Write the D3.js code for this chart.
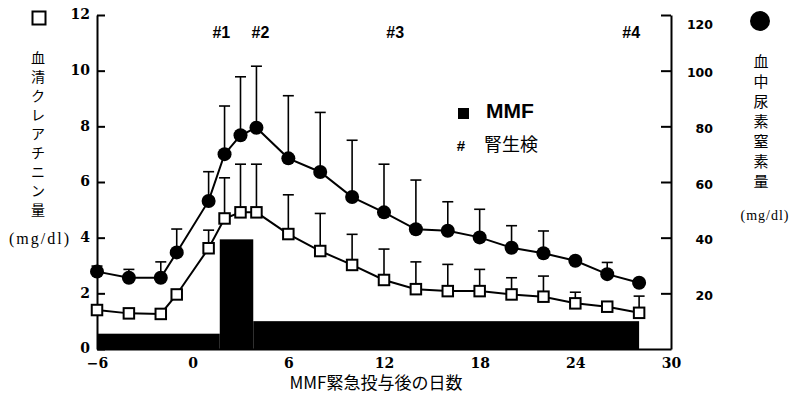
<!DOCTYPE html>
<html>
  <head>
    <meta charset="utf-8" />
    <title>MMF</title>
    <script src="https://cdn.jsdelivr.net/npm/d3@7"></script>
    <style>
      body { margin: 0; background: #fff; }
      svg { display: block; }
    </style>
  </head>
  <body>
    <svg width="789" height="403" id="mainsvg"></svg>
    <script>
      // days after MMF start
      const days = [-6, -4, -2, -1, 1, 2, 3, 4, 6, 8, 10, 12, 14, 16, 18, 20, 22, 24, 26, 28];
      // serum creatinine (mg/dl), open squares, left axis
      const creatinine = [1.40, 1.28, 1.26, 1.96, 3.62, 4.69, 4.91, 4.91, 4.13, 3.52, 3.02, 2.48, 2.15, 2.08, 2.08, 1.96, 1.88, 1.64, 1.52, 1.30];
      const creatinineSD = [0.1, 0.1, 0.1, 0.1, 0.65, 1.46, 1.73, 1.73, 1.41, 1.35, 1.10, 1.11, 0.98, 0.96, 0.78, 0.60, 0.74, 0.40, 0.1, 0.60];
      // BUN (mg/dl), filled circles, right axis
      const bun = [27.8, 25.6, 25.6, 34.7, 53.2, 70.0, 76.8, 79.5, 68.5, 63.6, 54.6, 49.1, 43.0, 42.5, 40.1, 36.4, 34.4, 31.7, 26.9, 23.8];
      const bunSD = [2.0, 3.0, 5.7, 8.4, 10.5, 17.3, 21.0, 22.1, 22.5, 21.4, 20.4, 17.3, 17.7, 10.4, 10.1, 7.9, 8.0, 1.0, 4.2, 1.0];
      // MMF dose steps (drawn on left axis units)
      const mmfStart = [-6, 1.7, 3.8];
      const mmfEnd = [1.7, 3.8, 28];
      const mmfLevel = [0.55, 3.94, 1.0];
      // renal biopsies
      const biopsyLabels = ["#1", "#2", "#3", "#4"];
      const biopsyDays = [1.8, 4.25, 12.7, 27.5];
      // ticks
      const xTicks = [-6, 0, 6, 12, 18, 24, 30];
      const yLeftTicks = [0, 2, 4, 6, 8, 10, 12];
      const yRightTicks = [20, 40, 60, 80, 100, 120];

      const svg = d3.select("#mainsvg");
      const margin = { top: 15, left: 97, right: 118, bottom: 54 };
      const width = +svg.attr("width");
      const height = +svg.attr("height");
      const innerWidth = width - margin.left - margin.right;
      const innerHeight = height - margin.top - margin.bottom;

      const g = svg.append("g").attr("transform", `translate(${margin.left},${margin.top})`);

      const x = d3.scaleLinear().domain([-6, 30]).range([0, innerWidth]);
      const y = d3.scaleLinear().domain([0, 12]).range([innerHeight, 0]);
      const yR = d3.scaleLinear().domain([0, 120]).range([innerHeight, 0]);

      const serifBold = "'DejaVu Serif', serif";
      const cjk = "'Noto Sans CJK JP', sans-serif";
      const unitFont = "'Liberation Serif', serif";

      // MMF dose
      g.selectAll("rect.mmf")
        .data(mmfStart.map((s, i) => ({ s, e: mmfEnd[i], v: mmfLevel[i] })))
        .join("rect")
        .attr("class", "mmf")
        .attr("x", (d) => x(d.s))
        .attr("width", (d) => x(d.e) - x(d.s))
        .attr("y", (d) => y(d.v))
        .attr("height", (d) => innerHeight - y(d.v))
        .attr("fill", "#000");

      // axes
      const yAxisL = g.append("g")
        .call(d3.axisLeft(y).tickValues(yLeftTicks).tickSize(-8).tickSizeOuter(0).tickPadding(7));
      yAxisL.selectAll("text").attr("font-family", serifBold).attr("font-weight", "bold").attr("font-size", 14).attr("dy", "0.28em");

      const yAxisR = g.append("g")
        .attr("transform", `translate(${innerWidth},0)`)
        .call(d3.axisRight(yR).tickValues(yRightTicks).tickSize(-10).tickSizeOuter(0));
      yAxisR.selectAll("text")
        .attr("x", 42)
        .attr("text-anchor", "end")
        .attr("font-family", "'DejaVu Sans', sans-serif")
        .attr("font-weight", "bold")
        .attr("font-size", 12.5)
        .attr("dy", (d) => (d === 120 ? "1.1em" : "0.5em"));

      const xAxis = g.append("g")
        .attr("transform", `translate(0,${innerHeight})`)
        .call(d3.axisBottom(x).tickValues(xTicks).tickSize(0).tickSizeOuter(0).tickPadding(9));
      xAxis.selectAll("text").attr("font-family", serifBold).attr("font-weight", "bold").attr("font-size", 14);

      svg.selectAll(".domain").attr("stroke", "#000").attr("stroke-width", 2);
      svg.selectAll(".tick line").attr("stroke", "#000").attr("stroke-width", 2);

      // series
      const creat = days.map((d, i) => ({ d, v: creatinine[i], sd: creatinineSD[i] }));
      const urea = days.map((d, i) => ({ d, v: bun[i], sd: bunSD[i] }));

      function drawErr(data, scale) {
        const eg = g.append("g").attr("stroke", "#000").attr("stroke-width", 1.6);
        eg.selectAll("line.v").data(data).join("line")
          .attr("x1", (d) => x(d.d)).attr("x2", (d) => x(d.d))
          .attr("y1", (d) => scale(d.v)).attr("y2", (d) => scale(d.v + d.sd));
        eg.selectAll("line.c").data(data).join("line")
          .attr("x1", (d) => x(d.d) - 5.5).attr("x2", (d) => x(d.d) + 5.5)
          .attr("y1", (d) => scale(d.v + d.sd)).attr("y2", (d) => scale(d.v + d.sd));
      }

      drawErr(creat, y);
      drawErr(urea, yR);

      g.append("path")
        .datum(creat)
        .attr("fill", "none").attr("stroke", "#000").attr("stroke-width", 2)
        .attr("d", d3.line().x((d) => x(d.d)).y((d) => y(d.v)));
      g.append("path")
        .datum(urea)
        .attr("fill", "none").attr("stroke", "#000").attr("stroke-width", 2)
        .attr("d", d3.line().x((d) => x(d.d)).y((d) => yR(d.v)));

      const sq = 10.5;
      g.selectAll("rect.cr").data(creat).join("rect")
        .attr("class", "cr")
        .attr("x", (d) => x(d.d) - sq / 2).attr("y", (d) => y(d.v) - sq / 2)
        .attr("width", sq).attr("height", sq)
        .attr("fill", "#fff").attr("stroke", "#000").attr("stroke-width", 2);
      g.selectAll("circle.bun").data(urea).join("circle")
        .attr("class", "bun")
        .attr("cx", (d) => x(d.d)).attr("cy", (d) => yR(d.v))
        .attr("r", 7).attr("fill", "#000");

      // biopsy marks
      g.selectAll("text.bx").data(biopsyLabels).join("text")
        .attr("class", "bx")
        .attr("x", (d, i) => x(biopsyDays[i]))
        .attr("y", 23)
        .attr("text-anchor", "middle")
        .attr("font-family", "'Liberation Sans', sans-serif")
        .attr("font-weight", "bold")
        .attr("font-size", 16)
        .text((d) => d);

      // legend
      svg.append("rect").attr("x", 458).attr("y", 108).attr("width", 11).attr("height", 11).attr("fill", "#000");
      svg.append("text").attr("x", 486).attr("y", 118)
        .attr("font-family", "'Liberation Sans', sans-serif").attr("font-weight", "bold").attr("font-size", 21)
        .text("MMF");
      svg.append("text").attr("x", 461).attr("y", 151).attr("text-anchor", "middle")
        .attr("font-family", "'Liberation Sans', sans-serif").attr("font-weight", "bold").attr("font-size", 15)
        .text("#");
      svg.append("text").attr("x", 484).attr("y", 151)
        .attr("font-family", cjk).attr("font-size", 18)
        .text("腎生検");

      // left title
      svg.append("rect").attr("x", 32.5).attr("y", 11.5).attr("width", 13).attr("height", 13)
        .attr("fill", "#fff").attr("stroke", "#000").attr("stroke-width", 2);
      const leftTitle = Array.from("血清クレアチニン量");
      svg.selectAll("text.lt").data(leftTitle).join("text")
        .attr("class", "lt")
        .attr("x", 38).attr("y", (d, i) => 63 + i * 19)
        .attr("text-anchor", "middle")
        .attr("font-family", cjk).attr("font-size", 14)
        .text((d) => d);
      svg.append("text").attr("x", 40).attr("y", 244).attr("text-anchor", "middle")
        .attr("font-family", unitFont).attr("font-size", 16).attr("letter-spacing", 2)
        .text("(mg/dl)");

      // right title
      svg.append("circle").attr("cx", 760).attr("cy", 21).attr("r", 10).attr("fill", "#000");
      const rightTitle = Array.from("血中尿素窒素量");
      svg.selectAll("text.rt").data(rightTitle).join("text")
        .attr("class", "rt")
        .attr("x", 761).attr("y", (d, i) => 67 + i * 20)
        .attr("text-anchor", "middle")
        .attr("font-family", cjk).attr("font-size", 15)
        .text((d) => d);
      svg.append("text").attr("x", 765).attr("y", 220).attr("text-anchor", "middle")
        .attr("font-family", unitFont).attr("font-size", 14).attr("letter-spacing", 1)
        .text("(mg/dl)");

      // x title
      svg.append("text").attr("x", 376).attr("y", 389).attr("text-anchor", "middle")
        .attr("font-family", cjk).attr("font-size", 17)
        .text("MMF緊急投与後の日数");
    </script>
  </body>
</html>
